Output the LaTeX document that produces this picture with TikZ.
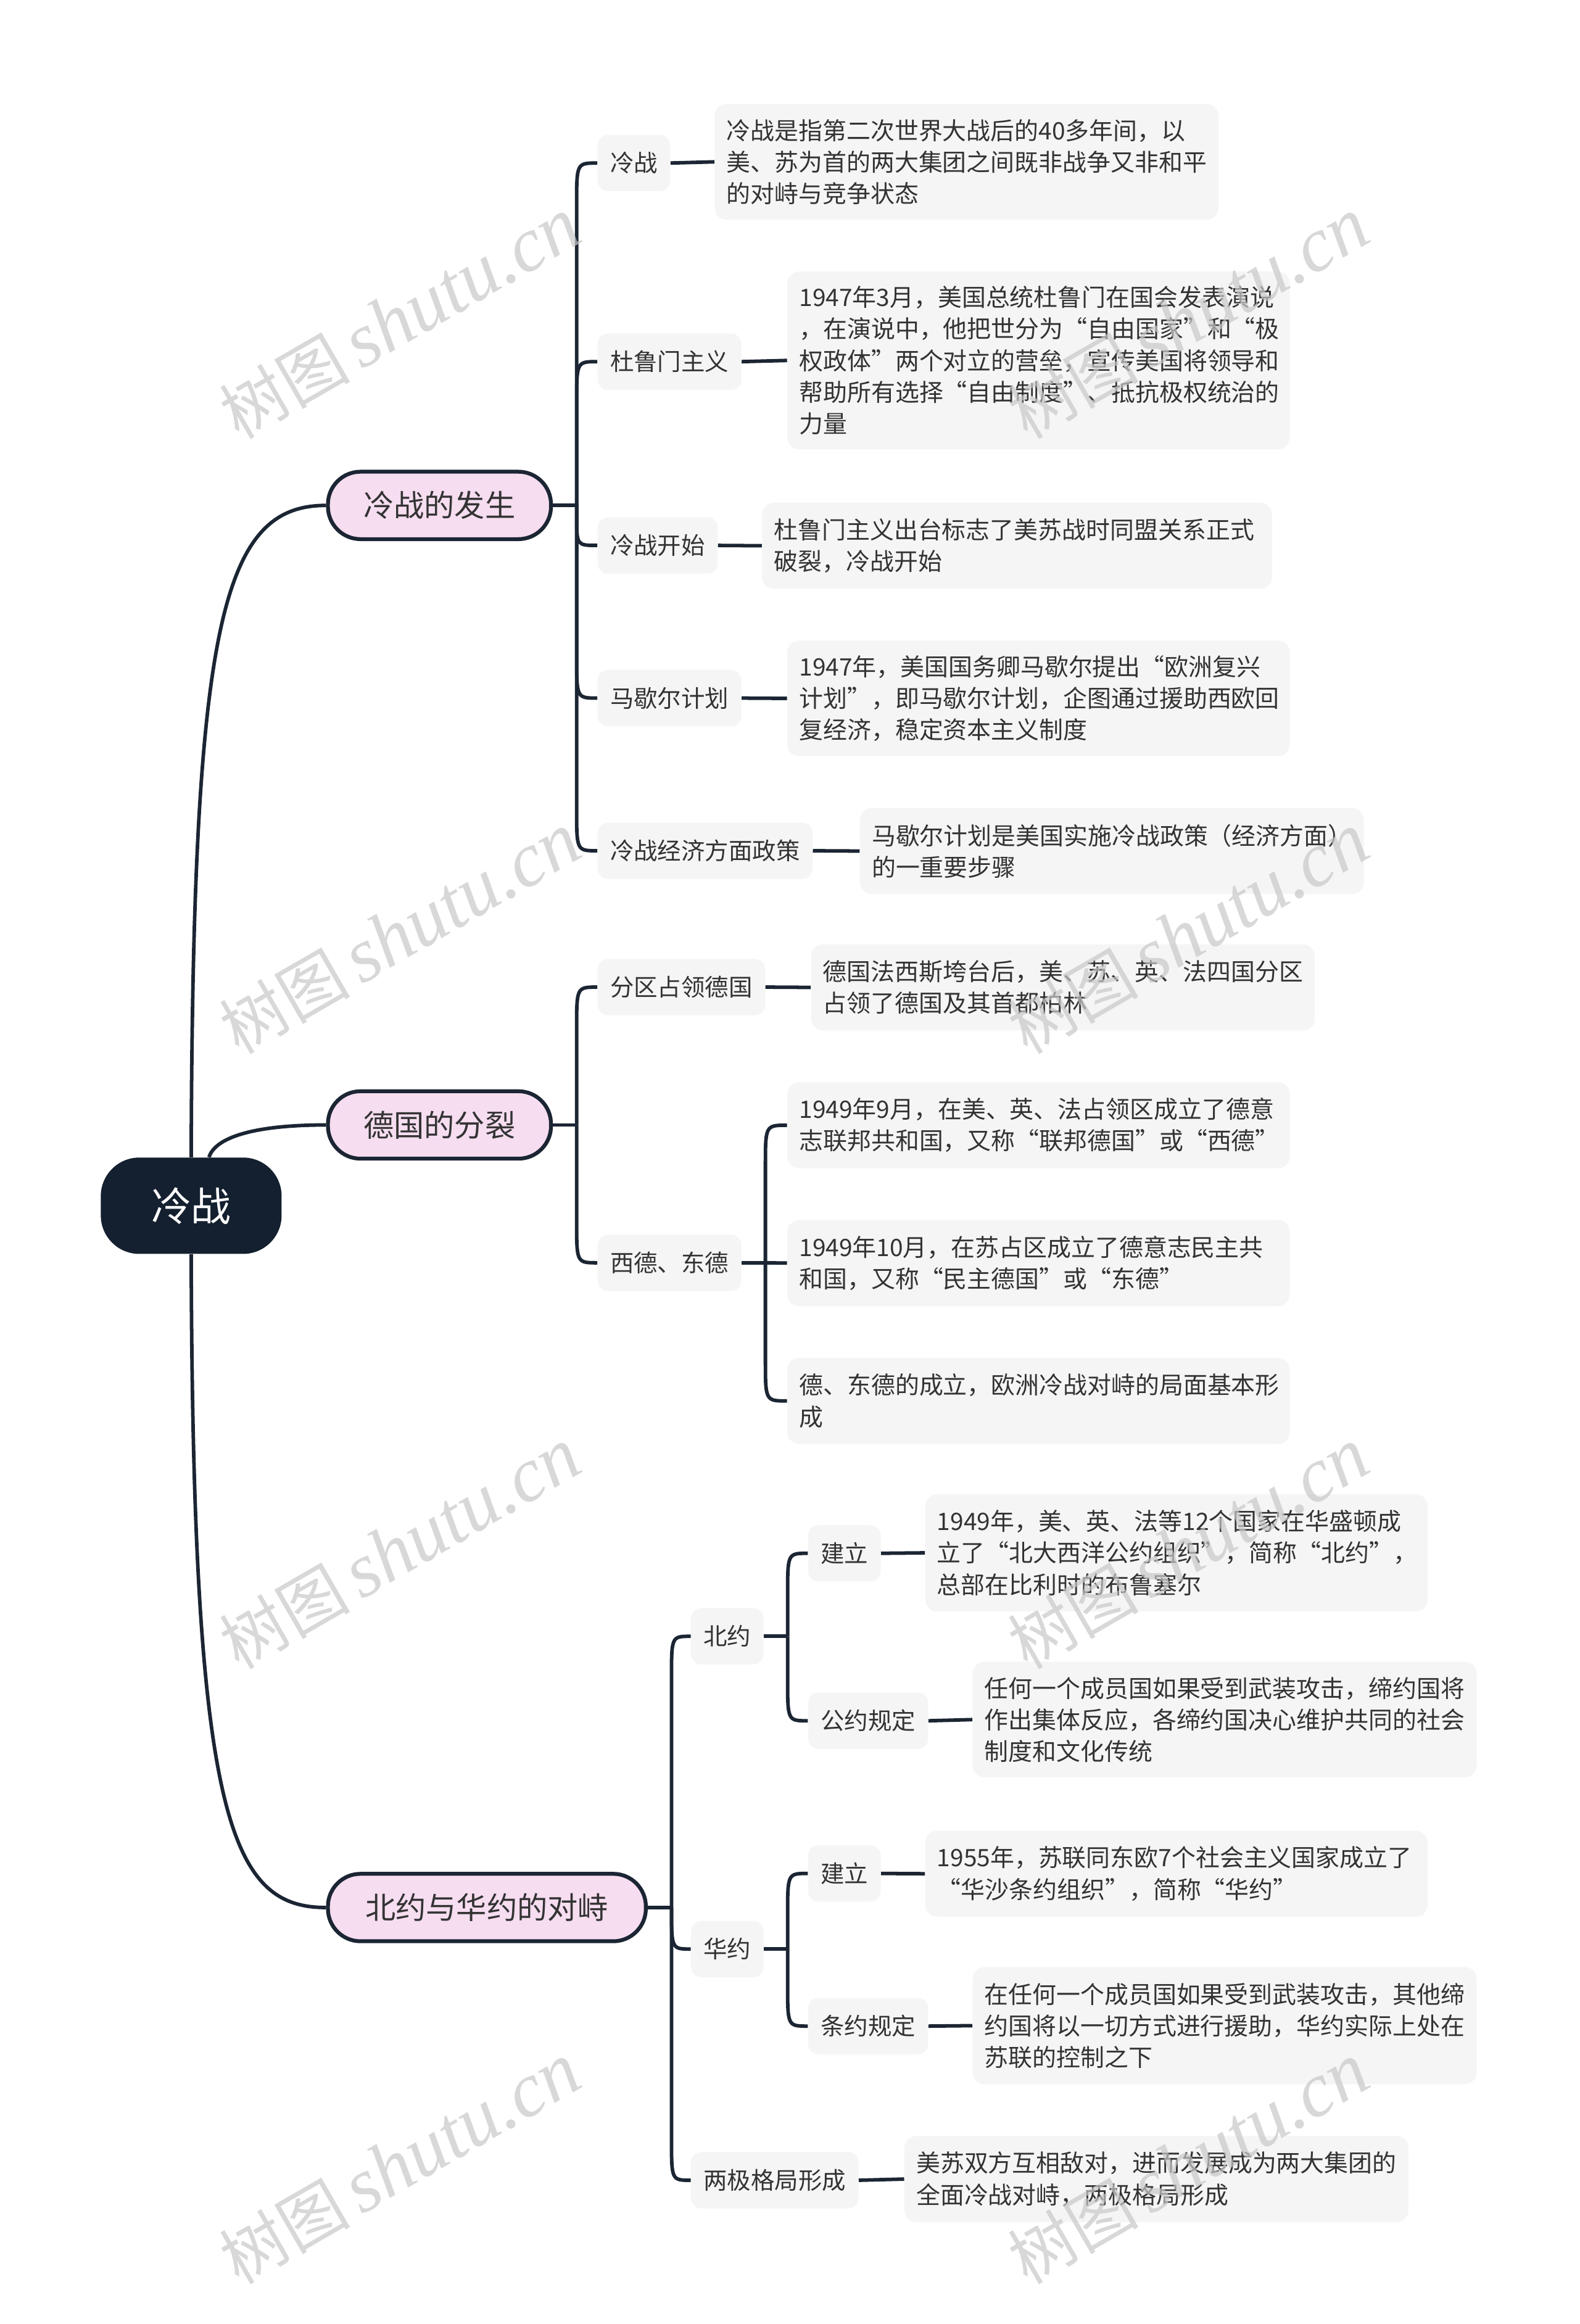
\documentclass[tikz,border=0pt]{standalone}
\usepackage{fontspec}
\setmainfont{Noto Sans CJK SC}
\newfontfamily\wmserif{Liberation Serif}
\usetikzlibrary{calc}
\definecolor{ink}{HTML}{1B2533}
\definecolor{rootfill}{HTML}{14202F}
\definecolor{pinkfill}{HTML}{F6DDF0}
\definecolor{boxfill}{HTML}{F5F5F5}
\definecolor{txt}{HTML}{333333}
\definecolor{wm}{HTML}{C8C8C8}
\newcommand\brup[3][28]{\draw[link] (#2) -- ($(#2 |- #3.west)+(0,#1)$) .. controls (#2 |- #3.west) .. (#3.west);}
\newcommand\brdown[3][28]{\draw[link] (#2) -- ($(#2 |- #3.west)+(0,-#1)$) .. controls (#2 |- #3.west) .. (#3.west);}
\begin{document}
\begin{tikzpicture}[x=1pt,y=-1pt,
  rootbox/.style={fill=rootfill, rounded corners=26pt, minimum width=122pt, minimum height=65pt, text=white, font=\fontsize{27}{32}\selectfont, inner sep=0pt},
  topicbox/.style={fill=pinkfill, draw=ink, line width=2.6pt, rounded corners=22pt, minimum height=45.5pt, text=txt, font=\fontsize{20.5}{24}\selectfont, inner sep=0pt},
  subbox/.style={fill=boxfill, rounded corners=7pt, minimum height=38pt, inner xsep=8.5pt, inner ysep=0pt, text=txt, font=\fontsize{16}{21}\selectfont, anchor=west},
  descbox/.style={fill=boxfill, rounded corners=8pt, inner xsep=8pt, inner ysep=0pt, text=txt, font=\fontsize{16.2}{21.3}\selectfont, align=left, anchor=north west},
  link/.style={draw=ink, line width=2.4pt},
  wmark/.style={text=wm, opacity=0.7, rotate=30, inner sep=0pt}
]
\useasboundingbox[fill=white] (0,0) rectangle (1066,1568);

% root
\node[rootbox] (root) at (129,813.5) {冷战};

% level 1
\node[topicbox, minimum width=150.5pt] (A) at (296.5,341) {冷战的发生};
\node[topicbox, minimum width=150.5pt] (B) at (296.5,759) {德国的分裂};
\node[topicbox, minimum width=214.5pt] (C) at (328.5,1287) {北约与华约的对峙};

% level 2 under A
\node[subbox] (a1) at (403,110) {冷战};
\node[subbox] (a2) at (403,244) {杜鲁门主义};
\node[subbox] (a3) at (403,368) {冷战开始};
\node[subbox] (a4) at (403,471) {马歇尔计划};
\node[subbox] (a5) at (403,574) {冷战经济方面政策};

% level 2 under B
\node[subbox] (b1) at (403,666) {分区占领德国};
\node[subbox] (b2) at (403,852) {西德、东德};

% level 2 under C
\node[subbox] (c1) at (466,1104) {北约};
\node[subbox] (c2) at (466,1315) {华约};
\node[subbox] (c3) at (466,1471) {两极格局形成};

% level 3 under c1, c2
\node[subbox] (c11) at (545,1048) {建立};
\node[subbox] (c12) at (545,1161) {公约规定};
\node[subbox] (c21) at (545,1264) {建立};
\node[subbox] (c22) at (545,1367) {条约规定};

% descriptions
\node[descbox, text width=324pt, minimum height=78pt] (da1) at (482,70) {冷战是指第二次世界大战后的40多年间，以\\美、苏为首的两大集团之间既非战争又非和平\\的对峙与竞争状态};
\node[descbox, text width=323pt, minimum height=120pt] (da2) at (531,183) {1947年3月，美国总统杜鲁门在国会发表演说\\，在演说中，他把世分为“自由国家”和“极\\权政体”两个对立的营垒，宣传美国将领导和\\帮助所有选择“自由制度”、抵抗极权统治的\\力量};
\node[descbox, text width=328pt, minimum height=58pt] (da3) at (514,339) {杜鲁门主义出台标志了美苏战时同盟关系正式\\破裂，冷战开始};
\node[descbox, text width=323pt, minimum height=78pt] (da4) at (531,432) {1947年，美国国务卿马歇尔提出“欧洲复兴\\计划”，即马歇尔计划，企图通过援助西欧回\\复经济，稳定资本主义制度};
\node[descbox, text width=324pt, minimum height=58pt] (da5) at (580,545) {马歇尔计划是美国实施冷战政策（经济方面）\\的一重要步骤};

\node[descbox, text width=324pt, minimum height=58pt] (db1) at (547,637) {德国法西斯垮台后，美、苏、英、法四国分区\\占领了德国及其首都柏林};
\node[descbox, text width=323pt, minimum height=58pt] (db21) at (531,730) {1949年9月，在美、英、法占领区成立了德意\\志联邦共和国，又称“联邦德国”或“西德”};
\node[descbox, text width=323pt, minimum height=58pt] (db22) at (531,823) {1949年10月，在苏占区成立了德意志民主共\\和国，又称“民主德国”或“东德”};
\node[descbox, text width=323pt, minimum height=58pt] (db23) at (531,916) {德、东德的成立，欧洲冷战对峙的局面基本形\\成};

\node[descbox, text width=323pt, minimum height=79pt] (dc11) at (624,1008) {1949年，美、英、法等12个国家在华盛顿成\\立了“北大西洋公约组织”，简称“北约”，\\总部在比利时的布鲁塞尔};
\node[descbox, text width=324pt, minimum height=78pt] (dc12) at (656,1121) {任何一个成员国如果受到武装攻击，缔约国将\\作出集体反应，各缔约国决心维护共同的社会\\制度和文化传统};
\node[descbox, text width=323pt, minimum height=58pt] (dc21) at (624,1235) {1955年，苏联同东欧7个社会主义国家成立了\\“华沙条约组织”，简称“华约”};
\node[descbox, text width=324pt, minimum height=79pt] (dc22) at (656,1327) {在任何一个成员国如果受到武装攻击，其他缔\\约国将以一切方式进行援助，华约实际上处在\\苏联的控制之下};
\node[descbox, text width=324pt, minimum height=58pt] (dc3) at (610,1441) {美苏双方互相敌对，进而发展成为两大集团的\\全面冷战对峙，两极格局形成};

% root connectors
\draw[link] (root.north) .. controls ($(root.north)+(1,-361)$) and ($(A.west)+(-70,0)$) .. (A.west);
\draw[link] ($(root.north)+(12,0)$) .. controls ($(root.north)+(16,-13)$) and ($(B.west)+(-50,0)$) .. (B.west);
\draw[link] (root.south) .. controls ($(root.south)+(1,380)$) and ($(C.west)+(-65,0)$) .. (C.west);

% trunks
\coordinate (tA) at ($(A.east)+(16,0)$);
\coordinate (tB) at ($(B.east)+(16,0)$);
\coordinate (tC) at ($(C.east)+(16,0)$);
\coordinate (tb2) at ($(b2.east)+(16,0)$);
\coordinate (tc1) at ($(c1.east)+(16,0)$);
\coordinate (tc2) at ($(c2.east)+(16,0)$);

\draw[link] (A.east) -- (tA);
\draw[link] (B.east) -- (tB);
\draw[link] (C.east) -- (tC);
\draw[link] (b2.east) -- (tb2);
\draw[link] (c1.east) -- (tc1);
\draw[link] (c2.east) -- (tc2);

\brup{tA}{a1}
\brup{tA}{a2}
\brdown[20]{tA}{a3}
\brdown{tA}{a4}
\brdown{tA}{a5}

\brup{tB}{b1}
\brdown{tB}{b2}

\brup{tC}{c1}
\brdown{tC}{c2}
\brdown{tC}{c3}

\brup{tb2}{db21}
\draw[link] (tb2) -- (db22.west);
\brdown{tb2}{db23}

\brup{tc1}{c11}
\brdown{tc1}{c12}
\brup{tc2}{c21}
\brdown{tc2}{c22}

% leaf connectors
\draw[link] (a1.east) -- (da1.west);
\draw[link] (a2.east) -- (da2.west);
\draw[link] (a3.east) -- (da3.west);
\draw[link] (a4.east) -- (da4.west);
\draw[link] (a5.east) -- (da5.west);
\draw[link] (b1.east) -- (db1.west);
\draw[link] (c11.east) -- (dc11.west);
\draw[link] (c12.east) -- (dc12.west);
\draw[link] (c21.east) -- (dc21.west);
\draw[link] (c22.east) -- (dc22.west);
\draw[link] (c3.east) -- (dc3.west);

% watermarks
\foreach \wx/\wy [count=\i] in {270/215, 270/630, 270/1045, 270/1460, 802/215, 802/630, 802/1045, 802/1460}{
  \node[wmark] (wm\i) at (\wx,\wy) {\fontsize{44}{48}\selectfont 树图\,{\wmserif\itshape\fontsize{52}{56}\selectfont shutu.cn}};
}
\end{tikzpicture}
\end{document}
